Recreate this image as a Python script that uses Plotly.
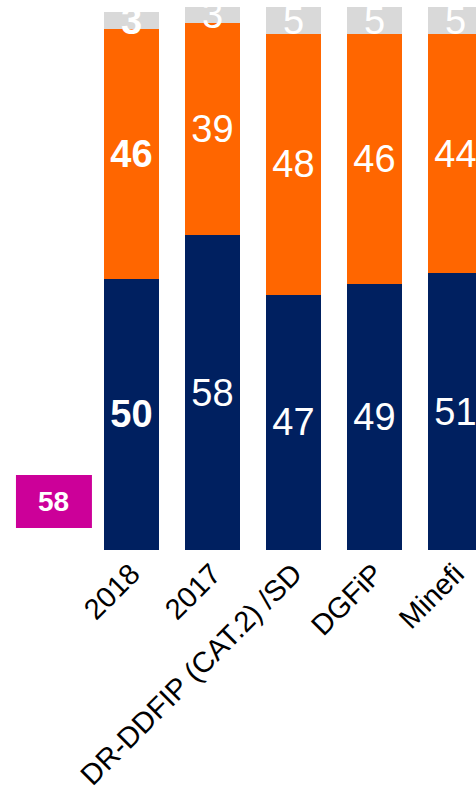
import plotly.graph_objects as go

# Categories and stacked shares (%)
categories = ["2018", "2017", "DR-DDFIP (CAT.2) /SD", "DGFiP", "Minefi"]
share_bottom = [50, 58, 47, 49, 51]
share_middle = [46, 39, 48, 46, 44]
share_top = [3, 3, 5, 5, 5]
reference_score = 58

NAVY = "#002060"
ORANGE = "#FF6600"
GREY = "#D9D9D9"
MAGENTA = "#CC0099"
FONT = "Liberation Sans, Arial, sans-serif"


def labels(values):
    # the current year is set in bold
    return [f"<b>{v}</b>" if i == 0 else str(v) for i, v in enumerate(values)]


fig = go.Figure()
for vals, color in [(share_bottom, NAVY), (share_middle, ORANGE), (share_top, GREY)]:
    fig.add_trace(go.Bar(
        x=categories,
        y=vals,
        marker=dict(color=color, line=dict(width=0)),
        text=labels(vals),
        textposition="inside",
        insidetextanchor="middle",
        textangle=0,
        constraintext="none",
        cliponaxis=False,
        textfont=dict(family=FONT, size=38, color="white"),
        hoverinfo="skip",
    ))

# Reference score box to the left of the bars
fig.add_shape(type="rect", xref="x", yref="y",
              x0=-1.426, x1=-0.488, y0=4.05, y1=13.8,
              fillcolor=MAGENTA, line=dict(width=0), layer="above")
fig.add_annotation(x=-0.957, y=8.9, xref="x", yref="y",
                   text=f"<b>{reference_score}</b>", showarrow=False,
                   font=dict(family=FONT, size=28, color="white"))

fig.update_layout(
    barmode="stack",
    bargap=0.321,
    width=476,
    height=793,
    margin=dict(l=0, r=0, t=7, b=243),
    paper_bgcolor="white",
    plot_bgcolor="white",
    showlegend=False,
    xaxis=dict(
        type="category",
        range=[-1.623, 4.253],
        tickangle=-45,
        automargin=False,
        tickfont=dict(family=FONT, size=29, color="black"),
        showgrid=False, zeroline=False, showline=False, ticks="",
    ),
    yaxis=dict(range=[0, 100], visible=False, showgrid=False),
)

fig.write_html("out.html")
